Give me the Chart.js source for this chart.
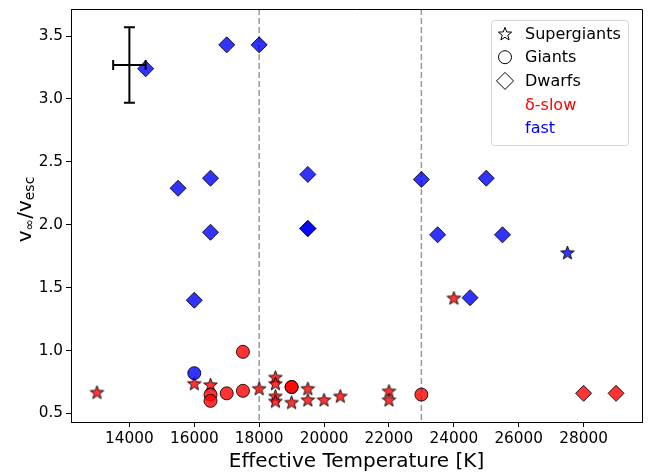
<!DOCTYPE html>
<html>
<head>
<meta charset="utf-8">
<script src="https://cdn.jsdelivr.net/npm/chart.js@4"></script>
<style>
  html, body { margin: 0; padding: 0; background: #fff; }
</style>
</head>
<body>
<canvas id="chart" width="657" height="474"></canvas>
<script>
// effective temperature [K] and v_inf / v_esc, split by class and wind group
const sgSlowT = [13000, 16000, 16500, 18000, 18500, 18500, 18500, 18500, 19000, 19500, 19500, 20000, 20500, 22000, 22000, 24000];
const sgSlowV = [0.67, 0.74, 0.73, 0.70, 0.79, 0.74, 0.64, 0.60, 0.59, 0.70, 0.61, 0.61, 0.64, 0.68, 0.61, 1.42];
const sgFastT = [27500];
const sgFastV = [1.78];

const giSlowT = [16500, 16500, 17000, 17500, 17500, 19000, 19000, 23000];
const giSlowV = [0.65, 0.60, 0.66, 0.99, 0.68, 0.71, 0.71, 0.65];
const giFastT = [16000];
const giFastV = [0.82];

const dwSlowT = [28000, 29000];
const dwSlowV = [0.66, 0.66];
const dwFastT = [14500, 17000, 18000, 15500, 16500, 16500, 16000, 19500, 19500, 19500, 23000, 23500, 25000, 25500, 24500];
const dwFastV = [3.24, 3.43, 3.43, 2.29, 2.37, 1.94, 1.40, 2.40, 1.97, 1.97, 2.36, 1.92, 2.37, 1.92, 1.42];

// typical uncertainty shown in the corner
const errT = [14000];
const errV = [3.27];
const errTpm = [500];
const errVpm = [0.3];

// boundaries of the temperature bins
const binEdges = [18000, 23000];

const xTicks = [14000, 16000, 18000, 20000, 22000, 24000, 26000, 28000];
const yTicks = [0.5, 1.0, 1.5, 2.0, 2.5, 3.0, 3.5];

const legendRows = ['Supergiants', 'Giants', 'Dwarfs', 'δ-slow', 'fast'];

const RED = 'rgba(255,0,0,0.8)';
const BLUE = 'rgba(0,0,255,0.8)';
const EDGE = 'rgba(0,0,0,0.85)';

Chart.defaults.font.family = '"DejaVu Sans", sans-serif';
Chart.defaults.color = '#000';

function starPath(ctx, cx, cy, r) {
  ctx.beginPath();
  for (let i = 0; i < 10; i++) {
    const rad = i % 2 === 0 ? r : r * 0.42;
    const a = -Math.PI / 2 + i * Math.PI / 5;
    const px = cx + rad * Math.cos(a), py = cy + rad * Math.sin(a);
    if (i === 0) ctx.moveTo(px, py); else ctx.lineTo(px, py);
  }
  ctx.closePath();
}

function starImage(fill, r) {
  const c = document.createElement('canvas');
  const size = Math.ceil(2 * r + 4);
  c.width = size; c.height = size;
  const g = c.getContext('2d');
  starPath(g, size / 2, size / 2 + 0.8, r);
  g.fillStyle = fill;
  g.fill();
  g.lineWidth = 1;
  g.strokeStyle = EDGE;
  g.stroke();
  return c;
}

const pts = (xs, ys) => xs.map((x, i) => ({ x: x, y: ys[i] }));

// dashed vertical lines at bin edges
const binLines = {
  id: 'binLines',
  beforeDatasetsDraw(chart) {
    const { ctx, chartArea, scales } = chart;
    ctx.save();
    ctx.strokeStyle = 'rgba(128,128,128,0.8)';
    ctx.lineWidth = 1.5;
    ctx.setLineDash([6, 3]);
    binEdges.forEach(t => {
      const x = scales.x.getPixelForValue(t);
      ctx.beginPath();
      ctx.moveTo(x, chartArea.top);
      ctx.lineTo(x, chartArea.bottom);
      ctx.stroke();
    });
    ctx.restore();
  }
};

// error bar, legend, frame, y label
const extras = {
  id: 'extras',
  afterDatasetsDraw(chart) {
    const { ctx, scales } = chart;
    const sx = scales.x, sy = scales.y;
    ctx.save();
    ctx.strokeStyle = '#000';
    ctx.lineWidth = 2;
    errT.forEach((t, i) => {
      const cx = sx.getPixelForValue(t), cy = sy.getPixelForValue(errV[i]);
      const x0 = sx.getPixelForValue(t - errTpm[i]), x1 = sx.getPixelForValue(t + errTpm[i]);
      const y0 = sy.getPixelForValue(errV[i] + errVpm[i]), y1 = sy.getPixelForValue(errV[i] - errVpm[i]);
      ctx.beginPath();
      ctx.moveTo(x0, cy); ctx.lineTo(x1, cy);
      ctx.moveTo(cx, y0); ctx.lineTo(cx, y1);
      ctx.moveTo(x0, cy - 5); ctx.lineTo(x0, cy + 5);
      ctx.moveTo(x1, cy - 5); ctx.lineTo(x1, cy + 5);
      ctx.moveTo(cx - 5.5, y0); ctx.lineTo(cx + 5.5, y0);
      ctx.moveTo(cx - 5.5, y1); ctx.lineTo(cx + 5.5, y1);
      ctx.stroke();
    });
    ctx.restore();

    // legend box
    ctx.save();
    const bx = 491.5, by = 20.5, bw = 137, bh = 125, br = 3;
    ctx.beginPath();
    ctx.roundRect(bx, by, bw, bh, br);
    ctx.fillStyle = 'rgba(255,255,255,0.8)';
    ctx.fill();
    ctx.strokeStyle = '#d4d4d4';
    ctx.lineWidth = 1;
    ctx.stroke();
    ctx.font = '16px "DejaVu Sans"';
    ctx.textBaseline = 'middle';
    const mx = 505, tx = 525, y0 = 33.5, dy = 23.7;
    const colors = ['#000', '#000', '#000', '#ff0000', '#0000ff'];
    legendRows.forEach((label, i) => {
      const y = y0 + i * dy;
      ctx.strokeStyle = '#000';
      ctx.fillStyle = '#fff';
      ctx.lineWidth = 1;
      if (i === 0) { starPath(ctx, mx, y + 0.8, 7); ctx.fill(); ctx.stroke(); }
      if (i === 1) { ctx.beginPath(); ctx.arc(mx, y, 6.5, 0, Math.PI * 2); ctx.fill(); ctx.stroke(); }
      if (i === 2) {
        ctx.beginPath();
        ctx.moveTo(mx - 8.5, y); ctx.lineTo(mx, y - 8.5); ctx.lineTo(mx + 8.5, y); ctx.lineTo(mx, y + 8.5);
        ctx.closePath(); ctx.fill(); ctx.stroke();
      }
      ctx.fillStyle = colors[i];
      ctx.fillText(label, tx, y + 1);
    });
    ctx.restore();
  },
  afterDraw(chart) {
    const { ctx, chartArea } = chart;
    ctx.save();
    ctx.strokeStyle = '#000';
    ctx.lineWidth = 1;
    ctx.beginPath();
    ctx.moveTo(chartArea.left, Math.round(chartArea.top) + 0.5);
    ctx.lineTo(Math.round(chartArea.right) + 0.5, Math.round(chartArea.top) + 0.5);
    ctx.lineTo(Math.round(chartArea.right) + 0.5, chartArea.bottom);
    ctx.stroke();

    // y axis title with subscripts
    const parts = [['v', 20, 0], ['∞', 14, 3], ['/', 20, 0], ['v', 20, 0], ['esc', 14, 3]];
    let total = 0;
    parts.forEach(p => { ctx.font = p[1] + 'px "DejaVu Sans"'; total += ctx.measureText(p[0]).width; });
    ctx.translate(31, 209.5);
    ctx.rotate(-Math.PI / 2);
    ctx.fillStyle = '#000';
    ctx.textBaseline = 'alphabetic';
    let x = -total / 2;
    parts.forEach(p => {
      ctx.font = p[1] + 'px "DejaVu Sans"';
      ctx.fillText(p[0], x, p[2]);
      x += ctx.measureText(p[0]).width;
    });
    ctx.restore();
  }
};

const ds = (data, style, color, r) => ({
  data: data,
  pointStyle: style,
  pointRadius: r,
  backgroundColor: color,
  borderColor: EDGE,
  borderWidth: 1,
  showLine: false
});

new Chart(document.getElementById('chart'), {
  type: 'scatter',
  data: {
    datasets: [
      ds(pts(dwFastT, dwFastV), 'rectRot', BLUE, 8),
      ds(pts(dwSlowT, dwSlowV), 'rectRot', RED, 8),
      ds(pts(giSlowT, giSlowV), 'circle', RED, 6.5),
      ds(pts(giFastT, giFastV), 'circle', BLUE, 6.5),
      ds(pts(sgSlowT, sgSlowV), starImage(RED, 7.2), RED, 6),
      ds(pts(sgFastT, sgFastV), starImage(BLUE, 7.2), BLUE, 6)
    ]
  },
  options: {
    responsive: false,
    animation: false,
    events: [],
    layout: { padding: { top: 6, right: 15, left: 0, bottom: 0 } },
    plugins: {
      legend: { display: false },
      tooltip: { enabled: false }
    },
    scales: {
      x: {
        type: 'linear',
        min: 12200,
        max: 29800,
        afterBuildTicks: s => { s.ticks = xTicks.map(v => ({ value: v })); },
        afterFit: s => { s.height = 52; s.paddingLeft = 0; s.paddingRight = 0; },
        ticks: { color: '#000', font: { size: 15.3 }, padding: 3, maxRotation: 0, autoSkip: false, callback: v => String(v) },
        grid: { drawOnChartArea: false, tickColor: '#000', tickLength: 5, tickWidth: 1 },
        border: { color: '#000', width: 1 },
        title: { display: true, text: 'Effective Temperature [K]', color: '#000', font: { size: 20 }, padding: { top: 0, bottom: 0 } }
      },
      y: {
        type: 'linear',
        min: 0.432,
        max: 3.715,
        afterBuildTicks: s => { s.ticks = yTicks.map(v => ({ value: v })); },
        afterFit: s => { s.width = 71; s.paddingTop = 0; s.paddingBottom = 0; },
        ticks: { color: '#000', font: { size: 15.3 }, padding: 3, callback: v => v.toFixed(1) },
        grid: { drawOnChartArea: false, tickColor: '#000', tickLength: 5, tickWidth: 1 },
        border: { color: '#000', width: 1 }
      }
    }
  },
  plugins: [binLines, extras]
});
</script>
</body>
</html>
